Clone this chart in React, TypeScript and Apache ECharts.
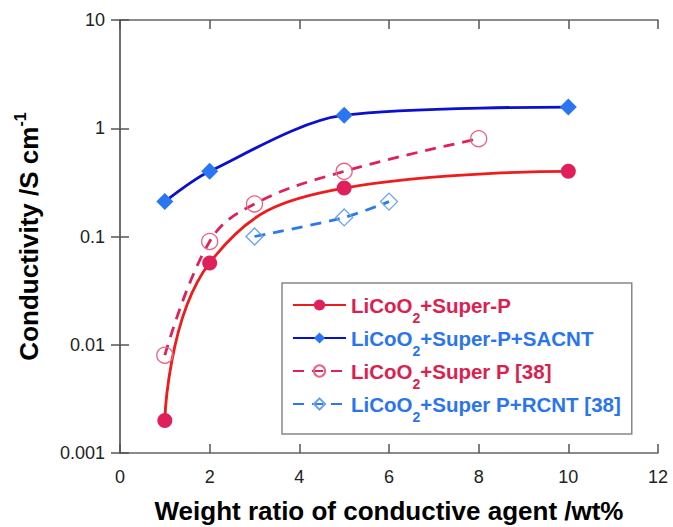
import React, { useEffect, useRef } from "react";
import * as echarts from "echarts";

// Weight ratio (wt%) and conductivity (S/cm)
const superPX = [1, 2, 5, 10];
const superPY = [0.002, 0.057, 0.28, 0.4];
const sacntX = [1, 2, 5, 10];
const sacntY = [0.21, 0.4, 1.32, 1.57];
const ref38X = [1, 2, 3, 5, 8];
const ref38Y = [0.008, 0.09, 0.2, 0.4, 0.8];
const rcntX = [3, 5, 6];
const rcntY = [0.1, 0.15, 0.21];

const seriesNames = [
  "LiCoO2+Super-P",
  "LiCoO2+Super-P+SACNT",
  "LiCoO2+Super P [38]",
  "LiCoO2+Super P+RCNT [38]",
];
const yTickLabels = ["0.001", "0.01", "0.1", "1", "10"];
const xTitle = "Weight ratio of conductive agent /wt%";

const zip = (xs: number[], ys: number[]) => xs.map((x, i) => [x, ys[i]]);

const FONT = "'Liberation Sans', Arial, sans-serif";

export default function App() {
  const ref = useRef<HTMLDivElement>(null);
  useEffect(() => {
    if (!ref.current) return;
    const chart = echarts.init(ref.current, undefined, { renderer: "svg" });
    const axisLine = { show: true, lineStyle: { color: "#666", width: 1.5 } };
    const axisTick = { show: true, inside: true, length: 9, lineStyle: { color: "#555", width: 1.5 } };
    const legendFmt = (name: string) => {
      const idx = seriesNames.indexOf(name);
      const k = idx === 0 || idx === 2 ? "r" : "b";
      const rest = name.replace("LiCoO2", "");
      return `{${k}|LiCoO}{${k}s|2}{${k}|${rest}}`;
    };
    chart.setOption({
      animation: false,
      backgroundColor: "#fff",
      grid: { left: 120, right: 15, top: 20, bottom: 74, containLabel: false, outerBoundsMode: "none" },
      xAxis: [
        {
          type: "value",
          min: 0,
          max: 12,
          interval: 2,
          axisLine,
          axisTick,
          splitLine: { show: false },
          axisLabel: { color: "#222", fontSize: 18, fontFamily: FONT, margin: 15 },
          name: xTitle,
          nameLocation: "middle",
          nameGap: 45,
          nameTextStyle: { color: "#000", fontSize: 26, fontWeight: "bold", fontFamily: FONT },
        },
        {
          type: "value",
          position: "top",
          min: 0,
          max: 12,
          interval: 2,
          axisLine,
          axisTick,
          splitLine: { show: false },
          axisLabel: { show: false },
        },
      ],
      yAxis: [
        {
          type: "log",
          logBase: 10,
          min: 0.001,
          max: 10,
          axisLine,
          axisTick,
          minorTick: { show: false },
          splitLine: { show: false },
          axisLabel: {
            color: "#222",
            fontSize: 18,
            fontFamily: FONT,
            margin: 15,
            formatter: (v: number) => yTickLabels[Math.round(Math.log10(v)) + 3],
          },
          name: "{a|Conductivity /S cm}{sup|-1}",
          nameLocation: "middle",
          nameGap: 74,
          nameRotate: 90,
          nameTextStyle: {
            rich: {
              a: { color: "#000", fontSize: 26, fontWeight: "bold", fontFamily: FONT },
              sup: { color: "#000", fontSize: 16, fontWeight: "bold", fontFamily: FONT, padding: [0, 0, 18, 0] },
            },
          },
        },
        {
          type: "log",
          logBase: 10,
          min: 0.001,
          max: 10,
          position: "right",
          axisLine,
          axisTick,
          splitLine: { show: false },
          axisLabel: { show: false },
        },
      ],
      legend: {
        orient: "vertical",
        left: 282,
        top: 283,
        padding: [2, 11, 10, 10],
        borderColor: "#888",
        borderWidth: 1.5,
        backgroundColor: "#fff",
        itemWidth: 53,
        itemHeight: 14,
        itemGap: -7,
        formatter: legendFmt,
        textStyle: {
          rich: {
            r: { color: "#dc1e50", fontSize: 20.5, fontWeight: "bold", fontFamily: FONT, lineHeight: 20 },
            rs: { color: "#dc1e50", fontSize: 14, fontWeight: "bold", fontFamily: FONT, lineHeight: 14, padding: [26, 0, 0, 0] },
            b: { color: "#2a75ee", fontSize: 20.5, fontWeight: "bold", fontFamily: FONT, lineHeight: 20 },
            bs: { color: "#2a75ee", fontSize: 14, fontWeight: "bold", fontFamily: FONT, lineHeight: 14, padding: [26, 0, 0, 0] },
          },
        },
        data: seriesNames,
      },
      series: [
        {
          name: seriesNames[0],
          type: "line",
          data: zip(superPX, superPY),
          smooth: 0.45,
          symbol: "circle",
          symbolSize: 15,
          lineStyle: { color: "#ee1c1c", width: 2.8 },
          itemStyle: { color: "#e0205a" },
        },
        {
          name: seriesNames[1],
          type: "line",
          data: zip(sacntX, sacntY),
          smooth: 0.3,
          symbol: "diamond",
          symbolSize: 17,
          lineStyle: { color: "#0a10d0", width: 2.8 },
          itemStyle: { color: "#2a75f0" },
        },
        {
          name: seriesNames[2],
          type: "line",
          data: zip(ref38X, ref38Y),
          smooth: 0.4,
          symbol: "circle",
          symbolSize: 16,
          lineStyle: { color: "#e0205a", width: 2.8, type: [11, 8] },
          itemStyle: { color: "rgba(255,255,255,0)", borderColor: "#f06080", borderWidth: 1.3 },
        },
        {
          name: seriesNames[3],
          type: "line",
          data: zip(rcntX, rcntY),
          smooth: 0.3,
          symbol: "diamond",
          symbolSize: 17,
          lineStyle: { color: "#2a7aee", width: 2.8, type: [11, 8] },
          itemStyle: { color: "rgba(255,255,255,0)", borderColor: "#6aa0f5", borderWidth: 1.3 },
        },
      ],
    });
    return () => chart.dispose();
  }, []);
  return (
    <div
      ref={ref}
      style={{ position: "fixed", left: 0, top: 0, width: 673, height: 527, background: "#fff" }}
    />
  );
}
